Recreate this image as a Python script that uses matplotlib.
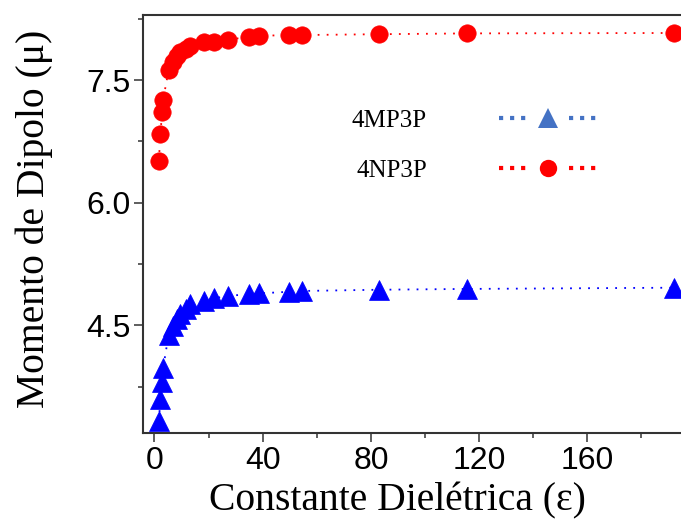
import matplotlib
matplotlib.use("Agg")
import matplotlib.pyplot as plt
from matplotlib.lines import Line2D
from matplotlib.legend_handler import HandlerTuple
from matplotlib.ticker import MultipleLocator

# Data
epsilon = [1.6, 2.2, 2.8, 3.2, 5.2, 7.0, 8.5, 9.6, 11.5, 13.3, 18.3, 22.0,
           27.0, 34.8, 38.5, 49.6, 54.4, 83.0, 115.6, 192.2]
mu_4mp3p = [3.33, 3.60, 3.81, 3.98, 4.38, 4.49, 4.58, 4.64, 4.70, 4.76, 4.80,
            4.83, 4.86, 4.88, 4.89, 4.91, 4.92, 4.935, 4.945, 4.96]
mu_4np3p = [6.51, 6.84, 7.11, 7.26, 7.62, 7.72, 7.79, 7.84, 7.88, 7.91, 7.96,
            7.97, 7.99, 8.03, 8.04, 8.05, 8.05, 8.06, 8.07, 8.075]
series_labels = ["4MP3P", "4NP3P"]
xticks = [0, 40, 80, 120, 160]
yticks = [4.5, 6.0, 7.5]

fig = plt.figure(figsize=(6.81, 5.26), dpi=100)
ax = fig.add_axes([143 / 681, 93 / 526, 552.5 / 681, 418 / 526])

ax.plot(epsilon, mu_4np3p, color="red", linestyle=(0, (1, 4)), linewidth=1.3,
        marker="o", markersize=12.5, markerfacecolor="red",
        markeredgecolor="red", markeredgewidth=0.5, zorder=3)
ax.plot(epsilon, mu_4mp3p, color="blue", linestyle=(0, (1, 4)), linewidth=1.3,
        marker="^", markersize=13.7, markerfacecolor="blue",
        markeredgecolor="blue", markeredgewidth=0.5, zorder=3)

ax.set_xlim(-4.25, 200)
ax.set_ylim(3.183, 8.295)
ax.set_xticks(xticks)
ax.set_yticks(yticks)
ax.set_yticklabels([f"{v:.1f}" for v in yticks])
ax.xaxis.set_minor_locator(MultipleLocator(20))
ax.yaxis.set_minor_locator(MultipleLocator(0.75))

for side in ["top", "bottom", "left", "right"]:
    ax.spines[side].set_color("#333333")
    ax.spines[side].set_linewidth(1.5)

ax.tick_params(which="major", direction="out", length=6.5, width=1.1,
               color="#333333", labelsize=23, pad=2.5)
ax.tick_params(which="minor", direction="out", length=3.5, width=1.1,
               color="#333333")
ax.tick_params(axis="x", which="major", pad=3)
for lab in ax.get_xticklabels() + ax.get_yticklabels():
    lab.set_fontfamily("Liberation Sans")

ax.set_xlabel("Constante Dielétrica (ε)", fontfamily="Liberation Serif",
              fontsize=28.5)
ax.set_ylabel("Momento de Dipolo (μ)", fontfamily="Liberation Serif",
              fontsize=28.5)
ax.xaxis.set_label_coords(0.46, -0.117)
ax.yaxis.set_label_coords(-0.162, 0.512)

def key(color, marker, ms):
    dots = Line2D([], [], color=color, linestyle=":", linewidth=3)
    mk = Line2D([], [], color=color, linestyle="none", marker=marker,
                markersize=ms, markeredgewidth=0)
    return (dots, mk, dots)

handles = [key("#4472C4", "^", 14), key("red", "o", 12.5)]
leg = ax.legend(handles, series_labels, loc="upper left",
                bbox_to_anchor=(0.378, 0.775), frameon=False, markerfirst=False,
                handler_map={tuple: HandlerTuple(ndivide=3, pad=0.3)},
                handlelength=3.9, handletextpad=2.9, labelspacing=1.12,
                borderpad=0, borderaxespad=0, numpoints=1,
                prop={"family": "Liberation Serif", "size": 18})

fig.savefig("out.png", dpi=100)
